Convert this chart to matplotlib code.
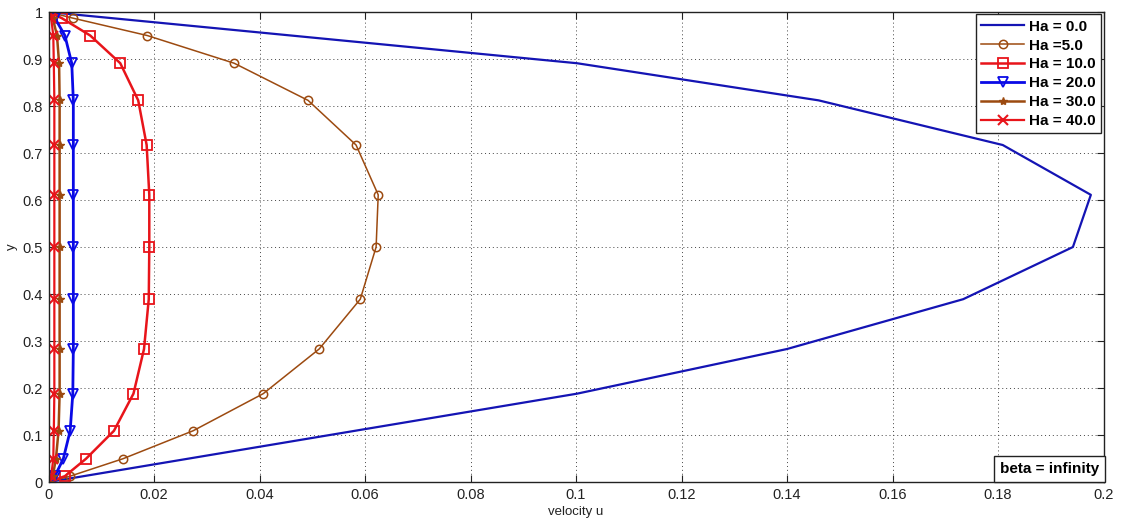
import numpy as np
from matplotlib import pyplot as plt

plt.rcParams['font.family'] = ['Liberation Sans', 'DejaVu Sans']

# wall-normal nodes
y = [0.0, 0.0125, 0.0495, 0.109, 0.188, 0.283, 0.389, 0.5,
     0.611, 0.717, 0.812, 0.891, 0.950, 0.987, 1.0]

# Ha = 0 is stored on a coarser set of nodes
y_ha0 = [0.0, 0.188, 0.283, 0.389, 0.5, 0.611, 0.717, 0.812, 0.891, 1.0]
u_ha0 = [0.0, 0.1002, 0.140, 0.1734, 0.1942, 0.1976, 0.1809, 0.146, 0.1002, 0.0]

u_ha5 = [0.0, 0.0041, 0.0141, 0.0274, 0.0407, 0.0513, 0.0591, 0.0621,
         0.0625, 0.0583, 0.0492, 0.0352, 0.0187, 0.0046, 0.0]
u_ha10 = [0.0, 0.0031, 0.0071, 0.0124, 0.0161, 0.0181, 0.0190, 0.0191,
          0.0191, 0.0186, 0.0170, 0.0136, 0.0079, 0.0025, 0.0]
u_ha20 = [0.0, 0.0012, 0.0028, 0.0041, 0.0046, 0.0047, 0.0047, 0.0047,
          0.0047, 0.0047, 0.0047, 0.0044, 0.0031, 0.0012, 0.0]
u_ha30 = [0.0, 0.0008, 0.0014, 0.0019, 0.0021, 0.0021, 0.0021, 0.0021,
          0.0021, 0.0021, 0.0021, 0.0020, 0.0016, 0.0008, 0.0]
u_ha40 = [0.0, 0.0005, 0.0009, 0.0010, 0.0011, 0.0011, 0.0011, 0.0011,
          0.0011, 0.0011, 0.0011, 0.0010, 0.0009, 0.0005, 0.0]

labels = ['Ha = 0.0', 'Ha =5.0', 'Ha = 10.0', 'Ha = 20.0', 'Ha = 30.0', 'Ha = 40.0']
x_ticks = [0, 0.02, 0.04, 0.06, 0.08, 0.1, 0.12, 0.14, 0.16, 0.18, 0.2]
x_ticklabels = ['0', '0.02', '0.04', '0.06', '0.08', '0.1', '0.12', '0.14', '0.16', '0.18', '0.2']
y_ticks = [0, 0.1, 0.2, 0.3, 0.4, 0.5, 0.6, 0.7, 0.8, 0.9, 1]
y_ticklabels = ['0', '0.1', '0.2', '0.3', '0.4', '0.5', '0.6', '0.7', '0.8', '0.9', '1']

blue_dark = '#1414b4'
blue = '#0a0ae6'
brown = '#9c4a10'
red = '#e8141a'


def main():
    fig = plt.figure(figsize=(11.21, 5.29), dpi=100)
    ax = fig.add_axes([0.0433, 0.0888, 0.9411, 0.8885])

    ax.plot(u_ha0, y_ha0, '-', color=blue_dark, lw=1.6, label=labels[0])
    ax.plot(u_ha5, y, '-o', color=brown, lw=1.1, ms=6, mfc='none', mew=1.1,
            label=labels[1])
    ax.plot(u_ha10, y, '-s', color=red, lw=1.8, ms=7, mfc='none', mew=1.3,
            label=labels[2])
    ax.plot(u_ha20, y, '-v', color=blue, lw=2.0, ms=7, mfc='none', mew=1.3,
            label=labels[3])
    ax.plot(u_ha30, y, '-*', color=brown, lw=1.8, ms=6, label=labels[4])
    ax.plot(u_ha40, y, '-x', color=red, lw=1.6, ms=7, mew=1.5, label=labels[5])

    ax.set_xlim(0, 0.2)
    ax.set_ylim(0, 1)
    ax.set_xticks(x_ticks)
    ax.set_xticklabels(x_ticklabels)
    ax.set_yticks(y_ticks)
    ax.set_yticklabels(y_ticklabels)
    ax.tick_params(direction='in', top=True, right=True, length=5,
                   labelsize=10.5, colors='#222222', pad=4)
    ax.grid(True, linestyle=(0, (1, 3)), color='#444444', lw=0.7)
    for s in ax.spines.values():
        s.set_color('#222222')
        s.set_linewidth(1.0)

    ax.set_xlabel('velocity u', fontsize=9.5, color='#222222', labelpad=3)
    ax.set_ylabel('y', fontsize=9.5, color='#222222', labelpad=3)

    leg = ax.legend(loc='upper right', fancybox=False, framealpha=1,
                    edgecolor='#222222', borderaxespad=0.15,
                    prop={'weight': 'bold', 'size': 11},
                    handlelength=2.8, handletextpad=0.35, labelspacing=0.32,
                    borderpad=0.35)
    leg.get_frame().set_linewidth(1.0)

    ax.text(0.1992, 0.012, 'beta = infinity', ha='right', va='bottom',
            fontsize=11, fontweight='bold',
            bbox=dict(boxstyle='square,pad=0.4', fc='white', ec='#222222', lw=1.0))

    fig.savefig('out.png', dpi=100)


if __name__ == '__main__':
    main()
